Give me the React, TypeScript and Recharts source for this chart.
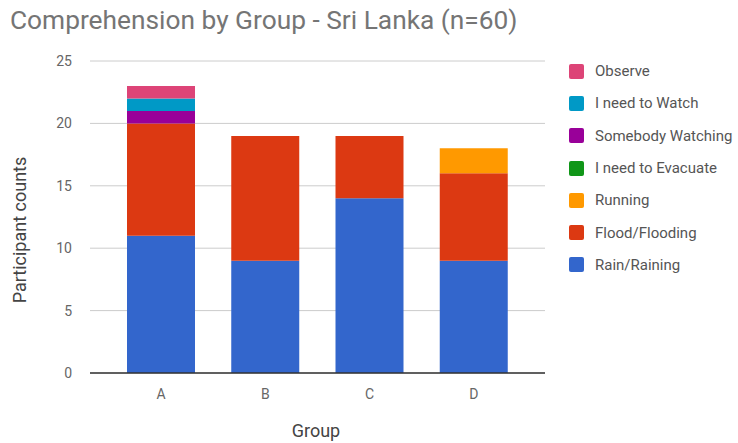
import { BarChart, Bar, XAxis, YAxis, CartesianGrid } from 'recharts';

const groups = ['A', 'B', 'C', 'D'];
const rain = [11, 9, 14, 9];
const flood = [9, 10, 5, 7];
const running = [0, 0, 0, 2];
const evacuate = [0, 0, 0, 0];
const somebody = [1, 0, 0, 0];
const watch = [1, 0, 0, 0];
const observe = [1, 0, 0, 0];
const yTicks = [0, 5, 10, 15, 20, 25];

// stacking order, bottom to top
const SERIES = [
  { key: 'rain', name: 'Rain/Raining', color: '#3366cc', values: rain },
  { key: 'flood', name: 'Flood/Flooding', color: '#dc3912', values: flood },
  { key: 'running', name: 'Running', color: '#ff9900', values: running },
  { key: 'evacuate', name: 'I need to Evacuate', color: '#109618', values: evacuate },
  { key: 'somebody', name: 'Somebody Watching', color: '#990099', values: somebody },
  { key: 'watch', name: 'I need to Watch', color: '#0099c6', values: watch },
  { key: 'observe', name: 'Observe', color: '#dd4477', values: observe },
];

const chartData = groups.map((g, i) => {
  const row: any = { group: g };
  SERIES.forEach(s => { row[s.key] = s.values[i]; });
  return row;
});

const FONT = 'Roboto, "Noto Sans", sans-serif';

export default function App() {
  return (
    <div style={{ position: 'absolute', left: 0, top: 0, width: 738, height: 443, background: '#fff' }}>
      <div style={{ position: 'absolute', left: 10, top: 5, fontFamily: FONT, fontSize: 26.3, color: '#757575', whiteSpace: 'nowrap' }}>
        Comprehension by Group - Sri Lanka (n=60)
      </div>
      <div style={{ position: 'absolute', left: 569, top: 55, fontFamily: FONT }}>
        {[...SERIES].reverse().map(s => (
          <div key={s.key} style={{ display: 'flex', alignItems: 'center', height: 32.3 }}>
            <span style={{ width: 15, height: 15, background: s.color, borderRadius: 2, marginRight: 11 }} />
            <span style={{ fontSize: 15, color: '#555', whiteSpace: 'nowrap' }}>{s.name}</span>
          </div>
        ))}
      </div>
      <BarChart
        width={738}
        height={443}
        data={chartData}
        margin={{ top: 61, right: 193, bottom: 40, left: 0 }}
        barCategoryGap={18}
        style={{ position: 'absolute', left: 0, top: 0 }}
      >
        <CartesianGrid vertical={false} stroke="#cccccc" />
        <XAxis
          dataKey="group"
          height={30}
          padding={{ left: 19, right: 19 }}
          tickLine={false}
          axisLine={{ stroke: '#333', strokeWidth: 1.5 }}
          tick={{ fill: '#666', fontSize: 14, fontFamily: FONT }}
          tickMargin={10}
          label={{
            content: () => (
              <text x={316} y={437} textAnchor="middle" fill="#444" fontSize={18} fontFamily={FONT}>Group</text>
            ),
          }}
        />
        <YAxis
          width={90}
          domain={[0, 25]}
          ticks={yTicks}
          tickLine={false}
          axisLine={false}
          tick={{ fill: '#666', fontSize: 14, fontFamily: FONT }}
          tickMargin={12}
          label={{
            content: () => (
              <text x={26} y={230} transform="rotate(-90 26 230)" textAnchor="middle" fill="#444" fontSize={18} fontFamily={FONT}>
                Participant counts
              </text>
            ),
          }}
        />
        {SERIES.map(s => (
          <Bar key={s.key} dataKey={s.key} name={s.name} stackId="a" fill={s.color} isAnimationActive={false} />
        ))}
      </BarChart>
    </div>
  );
}
